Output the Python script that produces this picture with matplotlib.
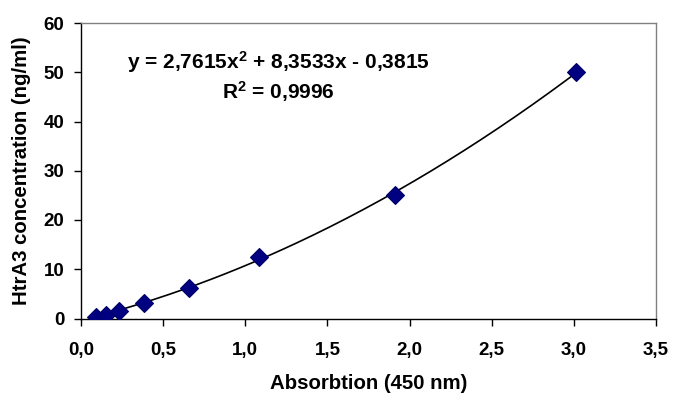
import numpy as np
import matplotlib
matplotlib.use("Agg")
import matplotlib.pyplot as plt

# Data
absorbance = [0.089, 0.152, 0.231, 0.385, 0.658, 1.083, 1.912, 3.011]
concentration = [0.39, 0.78, 1.56, 3.125, 6.25, 12.5, 25.0, 50.0]
# Fitted polynomial shown on the chart
coef_a, coef_b, coef_c = 2.7615, 8.3533, -0.3815
r_squared = "0,9996"
x_ticks = [0.0, 0.5, 1.0, 1.5, 2.0, 2.5, 3.0, 3.5]
x_tick_labels = ["0,0", "0,5", "1,0", "1,5", "2,0", "2,5", "3,0", "3,5"]
y_ticks = [0, 10, 20, 30, 40, 50, 60]

plt.rcParams['font.family'] = ['Liberation Sans', 'DejaVu Sans']
plt.rcParams['mathtext.fontset'] = 'custom'
plt.rcParams['mathtext.bf'] = 'Liberation Sans:bold'
plt.rcParams['mathtext.rm'] = 'Liberation Sans:bold'
plt.rcParams['mathtext.default'] = 'bf'

fig = plt.figure(figsize=(6.86, 3.97), dpi=100)
ax = fig.add_axes([81/686, 1 - 318.5/397, (656 - 81)/686, (318.5 - 23)/397])

xs = np.linspace(min(absorbance), max(absorbance), 200)
ax.plot(xs, coef_a * xs**2 + coef_b * xs + coef_c, color='black', lw=1.2, zorder=2)
ax.plot(absorbance, concentration, linestyle='none', marker='D', markersize=9.5,
        markerfacecolor='#000080', markeredgecolor='#000066', markeredgewidth=0.8, zorder=3)

ax.set_xlim(0, 3.5)
ax.set_ylim(0, 60)
ax.set_xticks(x_ticks)
ax.set_xticklabels(x_tick_labels)
ax.set_yticks(y_ticks)
ax.tick_params(axis='both', direction='out', length=5, width=1, labelsize=13.5)
ax.tick_params(axis='x', pad=12)
ax.tick_params(axis='y', pad=7)
for lab in ax.get_xticklabels() + ax.get_yticklabels():
    lab.set_fontweight('bold')

for side in ['left', 'bottom']:
    ax.spines[side].set_color('black')
    ax.spines[side].set_linewidth(1)
for side in ['top', 'right']:
    ax.spines[side].set_color('#808080')
    ax.spines[side].set_linewidth(1)

ax.set_xlabel('Absorbtion (450 nm)', fontsize=14.7, fontweight='bold', labelpad=11)
ax.set_ylabel('HtrA3 concentration (ng/ml)', fontsize=14.7, fontweight='bold', labelpad=9)

eq = f"y = 2,7615x$^2$ + 8,3533x - 0,3815"
ax.text(1.2, 52.0, eq, fontsize=15, fontweight='bold', ha='center', va='center')
ax.text(1.2, 46.0, f"R$^2$ = {r_squared}", fontsize=15, fontweight='bold', ha='center', va='center')

fig.savefig('out.png', dpi=100)
